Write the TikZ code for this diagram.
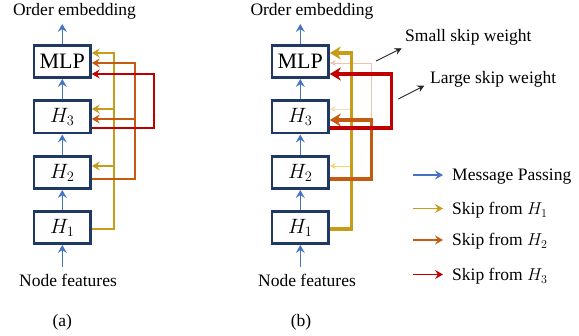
\documentclass[tikz,border=0pt]{standalone}
\usepackage{fontspec}
\setmainfont{Liberation Serif}
\usetikzlibrary{arrows.meta,calc}
\definecolor{mpblue}{RGB}{68,114,196}
\definecolor{boxnavy}{RGB}{31,56,100}
\definecolor{skipgold}{RGB}{200,155,25}
\definecolor{skiporange}{RGB}{197,90,17}
\definecolor{skipred}{RGB}{192,0,0}
\definecolor{palegold}{RGB}{248,212,100}
\definecolor{palecream}{RGB}{242,222,175}
\definecolor{palepeach}{RGB}{238,195,170}
\begin{document}
\begin{tikzpicture}[x=1pt,y=-1pt,font=\fontsize{17.5}{20}\selectfont,
  blk/.style={draw=boxnavy,line width=2.6pt,fill=white,minimum width=56.4pt,
    minimum height=32.4pt,inner sep=0pt,font=\fontsize{22}{24}\selectfont},
  txt/.style={inner sep=0pt,anchor=base},
  mp/.style={draw=mpblue,line width=1.6pt,-{Stealth[length=8pt,width=9pt,inset=3pt]}},
  thinskip/.style={line width=1.6pt,-{Stealth[length=8pt,width=9pt,inset=3pt]}},
  thickskip/.style={line width=3.2pt,-{Stealth[length=11pt,width=13pt,inset=3.5pt]}},
  faint/.style={line width=0.9pt,-{Stealth[length=6pt,width=6pt,inset=2pt]}},
  note/.style={draw=black!85,line width=0.9pt,-{Stealth[length=7pt,width=7pt,inset=2.5pt]}}]
\useasboundingbox (0,0) rectangle (579,336);

% ---------------- panel (a): uniform skip connections ----------------
\node[blk] (mlpA) at (62.3,61.5) {MLP};
\node[blk] (h3A)  at (62.3,117)  {$H_3$};
\node[blk] (h2A)  at (62.3,172.5){$H_2$};
\node[blk] (h1A)  at (62.3,227.5){$H_1$};
\node[txt] (outA) at (74.5,16) {Order embedding};
\node[txt] (inA)  at (68,287) {Node features};
\node[txt] (capA) at (62.3,327) {(a)};
\coordinate (topA) at ($(outA.south)+(0,4)$);
\coordinate (botA) at ($(inA.north)+(0,-7)$);

\draw[mp] (mlpA.north) -- (mlpA.north |- topA);
\draw[mp] (h3A.north) -- (mlpA.south);
\draw[mp] (h2A.north) -- (h3A.south);
\draw[mp] (h1A.north) -- (h2A.south);
\draw[mp] (h1A.south |- botA) -- (h1A.south);

% skip from H1
\draw[thinskip,skipgold] ($(h1A.east)+(0,1.5)$) -- ++(22,0) |- ($(mlpA.east)+(0,-8.5)$);
\draw[thinskip,skipgold] ($(h3A.east)+(22,-8)$) -- ($(h3A.east)+(0,-8)$);
\draw[thinskip,skipgold] ($(h2A.east)+(22,-6.5)$) -- ($(h2A.east)+(0,-6.5)$);
% skip from H2
\draw[thinskip,skiporange] ($(h2A.east)+(0,6.5)$) -- ++(43,0) |- ($(mlpA.east)+(0,1.5)$);
\draw[thinskip,skiporange] ($(h3A.east)+(43,2)$) -- ($(h3A.east)+(0,2)$);
% skip from H3
\draw[thinskip,skipred] ($(h3A.east)+(0,11)$) -- ++(62,0) |- ($(mlpA.east)+(0,12.5)$);

% ---------------- panel (b): weighted skip connections ----------------
\node[blk] (mlpB) at (300.3,61.5) {MLP};
\node[blk] (h3B)  at (300.3,117)  {$H_3$};
\node[blk] (h2B)  at (300.3,172.5){$H_2$};
\node[blk] (h1B)  at (300.3,227.5){$H_1$};
\node[txt] (outB) at (312,16) {Order embedding};
\node[txt] (inB)  at (307,287) {Node features};
\node[txt] (capB) at (301,327) {(b)};
\coordinate (topB) at ($(outB.south)+(0,4)$);
\coordinate (botB) at ($(inB.north)+(0,-7)$);

\draw[mp] (mlpB.north) -- (mlpB.north |- topB);
\draw[mp] (h3B.north) -- (mlpB.south);
\draw[mp] (h2B.north) -- (h3B.south);
\draw[mp] (h1B.north) -- (h2B.south);
\draw[mp] (h1B.south |- botB) -- (h1B.south);

% weak connections (thin, pale)
\draw[faint,palecream] ($(h3B.east)+(22,-8)$) -- ($(h3B.east)+(0,-8)$);
\draw[faint,palegold]  ($(h2B.east)+(22,-6.5)$) -- ($(h2B.east)+(0,-6.5)$);
\draw[faint,palepeach] ($(h3B.east)+(42,3)$) |- ($(mlpB.east)+(0,1.5)$);
% strong connections (thick)
\draw[thickskip,skipgold] ($(h1B.east)+(0,1.5)$) -- ++(22,0) |- ($(mlpB.east)+(0,-8.5)$);
\draw[thickskip,skiporange] ($(h2B.east)+(0,6.5)$) -- ++(42,0) |- ($(h3B.east)+(0,3)$);
\draw[thickskip,skipred] ($(h3B.east)+(0,11)$) -- ++(62,0) |- ($(mlpB.east)+(0,12.5)$);

% weight annotations
\node[inner sep=0pt,anchor=base west] (small) at (405,42) {Small skip weight};
\node[inner sep=0pt,anchor=base west] (large) at (430,84) {Large skip weight};
\coordinate (smallfrom) at (376,61);
\coordinate (smallto) at (401.7,48.3);
\coordinate (largefrom) at (398.3,99);
\coordinate (largeto) at (424.3,85.7);
\draw[note] (smallfrom) -- (smallto);
\draw[note] (largefrom) -- (largeto);

% ---------------- legend ----------------
\node[inner sep=0pt,anchor=base west] (lg1) at (452,181) {Message Passing};
\node[inner sep=0pt,anchor=base west] (lg2) at (452,214.5) {Skip from $H_1$};
\node[inner sep=0pt,anchor=base west] (lg3) at (452,246) {Skip from $H_2$};
\node[inner sep=0pt,anchor=base west] (lg4) at (452,280.5) {Skip from $H_3$};
\draw[mp] ($(lg1.base west)+(-39,-6)$) -- ($(lg1.base west)+(-9,-6)$);
\draw[thinskip,skipgold] ($(lg2.base west)+(-39,-6)$) -- ($(lg2.base west)+(-9,-6)$);
\draw[thinskip,skiporange] ($(lg3.base west)+(-39,-6)$) -- ($(lg3.base west)+(-9,-6)$);
\draw[thinskip,skipred] ($(lg4.base west)+(-39,-6)$) -- ($(lg4.base west)+(-9,-6)$);
\end{tikzpicture}
\end{document}
